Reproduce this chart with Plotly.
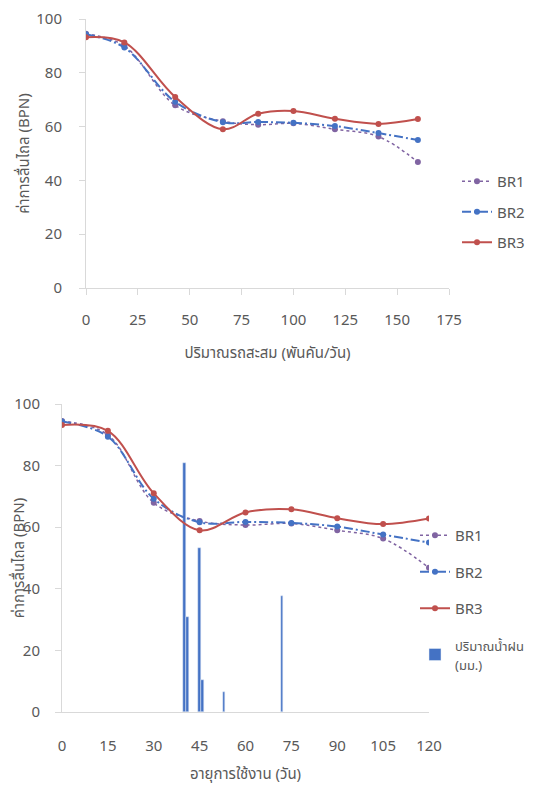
import plotly.graph_objects as go

# ---- data ----
traffic = [0, 18.5, 43, 66, 83, 100, 120, 141, 160]          # thousand vehicles/day
days = [0, 15, 30, 45, 60, 75, 90, 105, 120]                  # service days
br1 = [94.5, 90.0, 67.9, 62.0, 60.7, 61.2, 59.0, 56.3, 46.8]
br2 = [94.3, 89.4, 69.2, 61.6, 61.7, 61.4, 60.2, 57.6, 55.0]
br3 = [93.2, 91.3, 71.0, 59.0, 64.8, 65.8, 62.9, 61.0, 62.8]
rain_days = [40, 41, 45, 46, 53, 72]
rain_mm = [80.8, 30.8, 53.4, 10.3, 6.4, 37.8]

series_names = ["BR1", "BR2", "BR3"]
rain_name = "<span style='font-size:13px'>ปริมาณน้ำฝน<br>(มม.)</span>"
y_title = "ค่าการลื่นไถล (BPN)"
x_title_top = "ปริมาณรถสะสม (พันคัน/วัน)"
x_title_bottom = "อายุการใช้งาน (วัน)"
x_ticks_top = [0, 25, 50, 75, 100, 125, 150, 175]
x_ticks_bottom = [0, 15, 30, 45, 60, 75, 90, 105, 120]
y_ticks = [0, 20, 40, 60, 80, 100]

FONT = "Tahoma, 'Noto Sans Thai', 'Liberation Sans Narrow', 'Liberation Sans', sans-serif"
GRAY = "#595959"
AXC = "#d9d9d9"
styles = [
    dict(color="#8064A2", dash="dot", width=1.5),
    dict(color="#4472C4", dash="9px,3px,2px,3px", width=2),
    dict(color="#C0504D", dash="solid", width=2),
]

# page body has an 8px margin: figure placed at (8,8) inside 534x786 window
OFF = 8
W, H = 534 - OFF, 786 - OFF


def px(x):
    return (x - OFF) / W


def py(y):
    return 1 - (y - OFF) / H


fig = go.Figure()

# bottom chart rain bars (behind lines)
fig.add_trace(go.Bar(x=rain_days, y=rain_mm, name=rain_name, marker_color="#4472C4",
                     width=0.8, xaxis="x2", yaxis="y2", legend="legend2",
                     legendrank=4, legendgroup="r"))

for ys, nm, st, rk in zip([br1, br2, br3], series_names, styles, [1, 2, 3]):
    fig.add_trace(go.Scatter(x=traffic, y=ys, name=nm, mode="lines+markers",
                             line=dict(shape="spline", smoothing=1, **st),
                             marker=dict(size=6, color=st["color"]),
                             xaxis="x", yaxis="y", legend="legend",
                             legendgroup=nm, legendrank=rk))
    fig.add_trace(go.Scatter(x=days, y=ys, name=nm, mode="lines+markers",
                             line=dict(shape="spline", smoothing=1, **st),
                             marker=dict(size=6, color=st["color"]),
                             xaxis="x2", yaxis="y2", legend="legend2",
                             legendgroup=nm + "b", legendrank=rk))

tickfont = dict(family=FONT, size=15, color=GRAY)
titlefont = dict(family=FONT, size=15, color=GRAY)
common = dict(showgrid=False, zeroline=False, showline=True, linecolor=AXC,
              tickfont=tickfont, automargin=False, ticklabeloverflow="allow")

fig.update_layout(
    width=W, height=H,
    margin=dict(l=0, r=0, t=0, b=0, autoexpand=False),
    paper_bgcolor="white", plot_bgcolor="white",
    showlegend=True,
    bargap=0,
    xaxis=dict(domain=[px(86), px(449)], range=[0, 175], tickvals=x_ticks_top,
               ticks="outside", ticklen=6, tickcolor=AXC, ticklabelstandoff=12,
               title=dict(text=x_title_top, font=titlefont, standoff=16),
               anchor="y", **common),
    yaxis=dict(domain=[py(288), py(19)], range=[0, 100], tickvals=y_ticks,
               ticks="outside", ticklen=6, tickcolor=AXC, ticklabelstandoff=14,
               title=dict(text=y_title, font=titlefont, standoff=3),
               anchor="x", **common),
    xaxis2=dict(domain=[px(62), px(429)], range=[0, 120], tickvals=x_ticks_bottom,
                ticks="", ticklabelstandoff=20,
                title=dict(text=x_title_bottom, font=titlefont, standoff=16),
                anchor="y2", **common),
    yaxis2=dict(domain=[py(712), py(404)], range=[0, 100], tickvals=y_ticks,
                ticks="outside", ticklen=6, tickcolor=AXC, ticklabelstandoff=12,
                title=dict(text=y_title, font=titlefont, standoff=0),
                anchor="x2", **common),
    legend=dict(x=px(457), y=py(165), xanchor="left", yanchor="top",
                font=dict(family=FONT, size=15, color=GRAY), tracegroupgap=8,
                bgcolor="rgba(0,0,0,0)"),
    legend2=dict(x=px(415), y=py(519), xanchor="left", yanchor="top",
                 font=dict(family=FONT, size=15, color=GRAY), tracegroupgap=14,
                 bgcolor="rgba(0,0,0,0)"),
)

fig.write_html("out.html")
